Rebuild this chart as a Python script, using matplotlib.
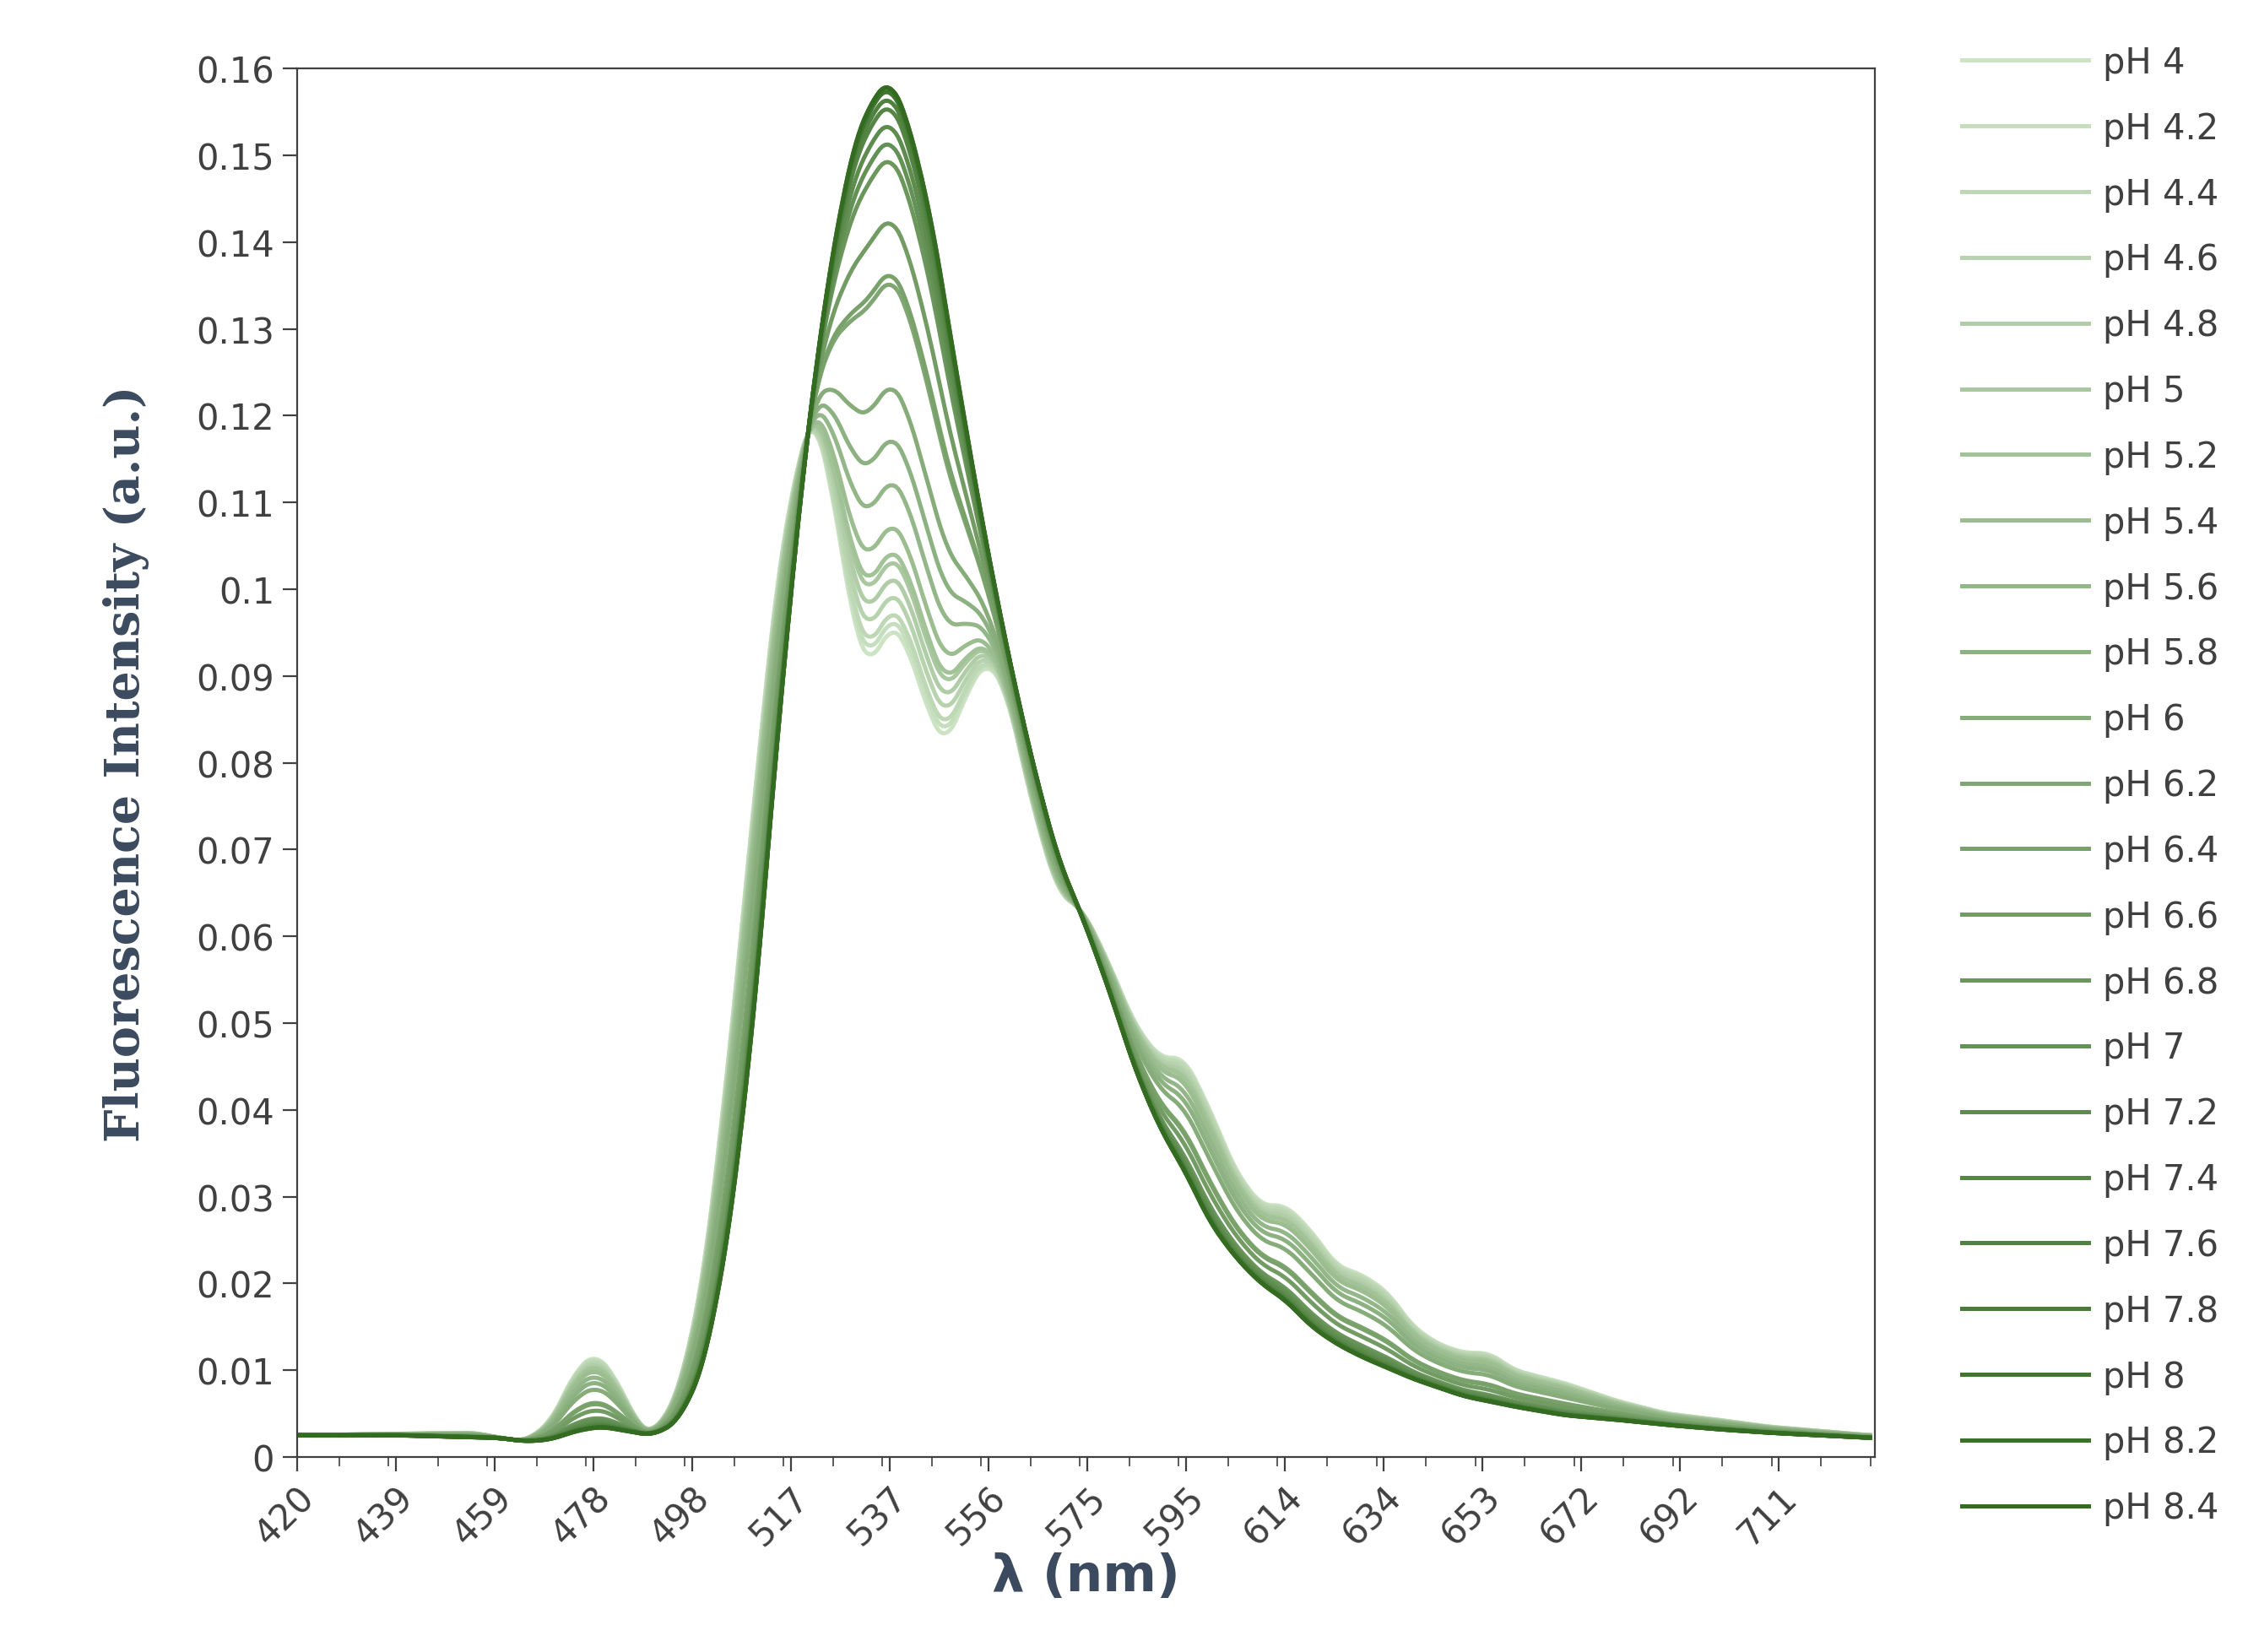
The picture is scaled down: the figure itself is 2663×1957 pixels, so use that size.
import numpy as np
import matplotlib.pyplot as plt
from matplotlib.ticker import FuncFormatter, MultipleLocator

ph_labels = ['pH 4', 'pH 4.2', 'pH 4.4', 'pH 4.6', 'pH 4.8', 'pH 5', 'pH 5.2', 'pH 5.4',
             'pH 5.6', 'pH 5.8', 'pH 6', 'pH 6.2', 'pH 6.4', 'pH 6.6', 'pH 6.8', 'pH 7',
             'pH 7.2', 'pH 7.4', 'pH 7.6', 'pH 7.8', 'pH 8', 'pH 8.2', 'pH 8.4']
# intensity read at 537 nm for each pH
peak_537 = [0.096, 0.097, 0.098, 0.100, 0.102, 0.104, 0.105, 0.108, 0.113, 0.118, 0.124,
            0.136, 0.137, 0.143, 0.150, 0.152, 0.154, 0.156, 0.157, 0.158, 0.158, 0.1585, 0.1585]

# acid form (pH 4) knots
acid_wl = [420, 455, 460, 465, 470, 475, 479, 483, 487, 490, 495, 500, 505, 510, 515, 520, 522,
           525, 530, 533, 537, 540, 545, 548, 552, 556, 560, 565, 570, 575, 580, 585, 590, 595,
           600, 605, 610, 615, 620, 625, 630, 635, 640, 645, 650, 655, 660, 670, 680, 690, 700,
           710, 720, 730]
acid_i = [0.0025, 0.0028, 0.0022, 0.0018, 0.004, 0.01, 0.012, 0.009, 0.004, 0.0025, 0.007, 0.02,
          0.045, 0.075, 0.103, 0.118, 0.12, 0.113, 0.095, 0.091, 0.096, 0.094, 0.085, 0.082, 0.088,
          0.092, 0.088, 0.075, 0.065, 0.063, 0.057, 0.05, 0.046, 0.046, 0.04, 0.033, 0.029, 0.029,
          0.026, 0.022, 0.021, 0.019, 0.015, 0.013, 0.012, 0.012, 0.01, 0.0085, 0.0065, 0.005,
          0.0043, 0.0035, 0.003, 0.0025]
# basic form (pH 8.4) knots
base_wl = [420, 440, 460, 465, 470, 475, 480, 485, 490, 495, 500, 505, 510, 515, 520, 525, 530,
           535, 537, 540, 545, 550, 555, 560, 565, 570, 575, 580, 585, 590, 595, 600, 605, 610,
           615, 620, 625, 630, 640, 650, 660, 670, 680, 690, 700, 710, 720, 730]
base_i = [0.0025, 0.0025, 0.0022, 0.0018, 0.002, 0.003, 0.0035, 0.003, 0.0025, 0.004, 0.01, 0.025,
          0.05, 0.085, 0.115, 0.137, 0.152, 0.158, 0.1585, 0.155, 0.143, 0.125, 0.108, 0.093, 0.08,
          0.069, 0.062, 0.054, 0.045, 0.038, 0.033, 0.027, 0.023, 0.02, 0.018, 0.015, 0.013,
          0.0115, 0.009, 0.007, 0.0058, 0.0048, 0.0043, 0.0037, 0.0032, 0.0028, 0.0025, 0.0022]

tick_labels = ['420', '439', '459', '478', '498', '517', '537', '556', '575', '595', '614',
               '634', '653', '672', '692', '711']

wl = np.linspace(420, 730, 600)
acid = np.interp(wl, acid_wl, acid_i)
base = np.interp(wl, base_wl, base_i)
# light smoothing of the straight segments between read points
kern = np.ones(9) / 9
acid = np.convolve(np.pad(acid, 4, mode='edge'), kern, mode='valid')
base = np.convolve(np.pad(base, 4, mode='edge'), kern, mode='valid')

fig = plt.figure(figsize=(13.315, 9.79), dpi=200)
ax = fig.add_axes([0.132, 0.118, 0.702, 0.84])

light = np.array([0.80, 0.89, 0.77])
dark = np.array([0.20, 0.42, 0.13])
n = len(ph_labels)
for k, (lab, p) in enumerate(zip(ph_labels, peak_537)):
    f = (p - peak_537[0]) / (peak_537[-1] - peak_537[0])
    c = light + (dark - light) * (k / (n - 1))
    ax.plot(wl, acid + f * (base - acid), color=c, lw=1.8, label=lab)

step = 19.47
ax.set_xlim(420, 731)
ax.set_xticks([420 + i * step for i in range(len(tick_labels))])
ax.set_xticklabels(tick_labels, rotation=45, ha='right', rotation_mode='anchor')
ax.xaxis.set_minor_locator(MultipleLocator(step / 2))
ax.set_ylim(0, 0.16)
ax.yaxis.set_major_locator(MultipleLocator(0.01))
ax.yaxis.set_major_formatter(FuncFormatter(lambda v, p: '%g' % round(v, 3)))
ax.tick_params(labelsize=15, colors='#404040', length=6)
ax.tick_params(which='minor', length=4, color='#404040')
for s in ax.spines.values():
    s.set_color('#404040')

ax.set_ylabel('Fluorescence Intensity (a.u.)', family='DejaVu Serif', fontweight='bold',
              fontsize=20, color='#3b4a5e', labelpad=20)
ax.set_xlabel('λ (nm)', fontweight='bold', fontsize=22, color='#3b4a5e', labelpad=0)

leg = ax.legend(loc='upper left', bbox_to_anchor=(1.035, 1.04), frameon=False, fontsize=15,
                handlelength=3.6, handletextpad=0.4, labelspacing=0.86, labelcolor='#404040')
fig.savefig('out.png')
